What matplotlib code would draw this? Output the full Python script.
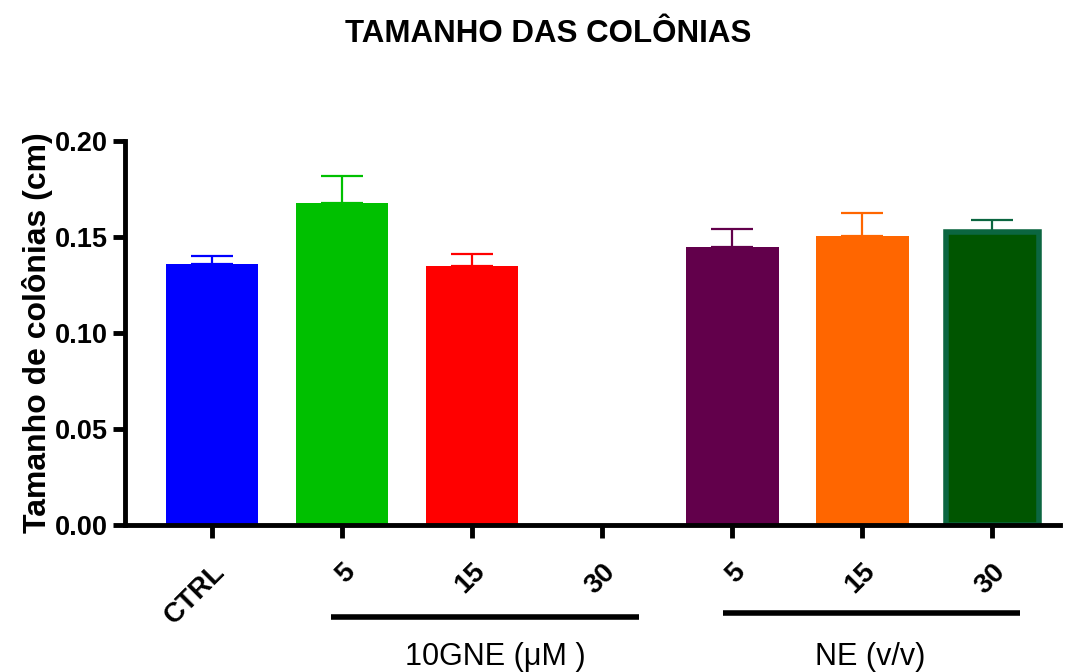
import matplotlib
matplotlib.use("Agg")
import matplotlib.pyplot as plt
from matplotlib import transforms

plt.rcParams['font.family'] = ['Liberation Sans', 'DejaVu Sans']

categories = ["CTRL", "5", "15", "30", "5", "15", "30"]
means = [0.136, 0.168, 0.135, 0.0, 0.145, 0.1505, 0.1525]
sem = [0.004, 0.014, 0.006, 0.0, 0.009, 0.012, 0.0065]
colors = ["#0000FF", "#00C000", "#FF0000", "#FFFFFF", "#62004B", "#FF6600", "#005500"]
edge_colors = ["#0000FF", "#00C000", "#FF0000", "#FFFFFF", "#62004B", "#FF6600", "#0B6640"]
group_labels = ["10GNE (\u03bcM )", "NE (v/v)"]
group_spans = [(0.915, 3.28), (3.93, 6.215)]
group_label_x = [2.18, 5.06]
group_line_y = [0.082, 0.088]

fig = plt.figure(figsize=(10.73, 6.72), dpi=100)
ax = fig.add_axes([0.1165, 0.219, 0.8715, 0.571])

x = list(range(len(categories)))
for i in x:
    if means[i] <= 0:
        continue
    lw = 4 if edge_colors[i] != colors[i] else 0
    ax.bar(i, means[i], width=0.71, color=colors[i], edgecolor=edge_colors[i],
           linewidth=lw, zorder=2)
    ax.errorbar(i, means[i], yerr=[[0], [sem[i]]], fmt='none',
                ecolor=edge_colors[i] if i == 6 else colors[i],
                elinewidth=1.6, capsize=15, capthick=1.6, zorder=1)

ax.set_xlim(-0.67, 6.52)
ax.set_ylim(0, 0.2)
ax.set_yticks([0.0, 0.05, 0.10, 0.15, 0.20])
ax.set_yticklabels(["0.00", "0.05", "0.10", "0.15", "0.20"])
ax.set_xticks(x)
ax.set_xticklabels(categories, rotation=45, ha='right', va='top',
                   rotation_mode='anchor')

for s in ['top', 'right']:
    ax.spines[s].set_visible(False)
for s in ['left', 'bottom']:
    ax.spines[s].set_linewidth(3.5)
ax.tick_params(axis='both', length=9, width=3.5, labelsize=19.5, pad=3)
for lab in ax.get_xticklabels() + ax.get_yticklabels():
    lab.set_fontweight('bold')
ax.tick_params(axis='x', labelsize=20)
offset = transforms.ScaledTranslation(0.0, -0.17, fig.dpi_scale_trans)
for lab in ax.get_xticklabels():
    lab.set_transform(lab.get_transform() + offset)

ax.set_ylabel("Tamanho de colônias (cm)", fontsize=23, fontweight='bold', labelpad=2)

fig.text(0.511, 0.950, "TAMANHO DAS COLÔNIAS", fontsize=22.5, fontweight='bold',
         ha='center', va='center')

trans = transforms.blended_transform_factory(ax.transData, fig.transFigure)
for label, (a, b), lx, ly in zip(group_labels, group_spans, group_label_x, group_line_y):
    ax.plot([a, b], [ly, ly], transform=trans, color='black',
            lw=4, clip_on=False, solid_capstyle='butt')
    ax.text(lx, 0.022, label, transform=trans, ha='center',
            va='center', fontsize=22)

fig.savefig("out.png", dpi=100)
